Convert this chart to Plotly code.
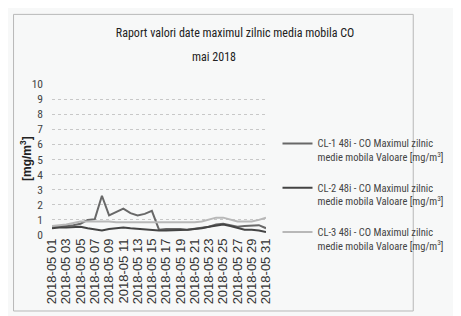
import plotly.graph_objects as go

days = [f"2018-05 {d:02d}" for d in range(1, 32)]
tick_labels = [f"2018-05 {d:02d}" for d in range(1, 32, 2)]

cl1 = [0.55, 0.6, 0.6, 0.65, 0.75, 1.0, 1.05, 2.6, 1.3, 1.5, 1.75, 1.45, 1.3, 1.4, 1.6,
       0.35, 0.4, 0.4, 0.4, 0.35, 0.4, 0.45, 0.55, 0.7, 0.75, 0.65, 0.55, 0.6, 0.6, 0.65, 0.45]
cl2 = [0.45, 0.5, 0.5, 0.5, 0.55, 0.45, 0.35, 0.3, 0.4, 0.45, 0.5, 0.45, 0.4, 0.35, 0.35,
       0.3, 0.3, 0.3, 0.35, 0.35, 0.4, 0.45, 0.55, 0.65, 0.7, 0.6, 0.45, 0.35, 0.35, 0.3, 0.2]
cl3 = [0.6, 0.65, 0.7, 0.8, 0.9, 0.9, 0.9, 0.9, 0.9, 0.85, 0.85, 0.85, 0.85, 0.85, 0.85,
       0.8, 0.8, 0.8, 0.8, 0.8, 0.85, 0.9, 1.0, 1.15, 1.15, 1.0, 0.9, 0.9, 0.9, 1.0, 1.15]

names = [
    "CL-1 48i - CO Maximul zilnic<br>medie mobila Valoare [mg/m<sup>3</sup>]",
    "CL-2 48i - CO Maximul zilnic<br>medie mobila Valoare [mg/m<sup>3</sup>]",
    "CL-3 48i - CO Maximul zilnic<br>medie mobila Valoare [mg/m<sup>3</sup>]",
]
colors = ["#686868", "#444444", "#b8b8b8"]

COND = "Roboto Condensed, Liberation Sans, sans-serif"
REG = "Liberation Sans, Arial, sans-serif"

# page has an 8px body margin; figure is sized to fit the 461x316 window
OFF = 8
W, H = 461 - OFF, 316 - OFF
PL, PT, PW, PH = 52, 84, 242, 154  # plot area in page pixels


def px(xp):
    return (xp - PL) / PW


def py(yp):
    return (PT + PH - yp) / PH


fig = go.Figure()
for i, (vals, nm, col) in enumerate(zip([cl1, cl2, cl3], names, colors)):
    fig.add_trace(go.Scatter(x=days, y=vals, mode="lines", name=nm,
                             legendgroup=f"g{i}",
                             line=dict(color=col, width=2)))

fig.update_layout(
    width=W, height=H,
    margin=dict(l=PL - OFF, r=W - (PL - OFF) - PW, t=PT - OFF, b=H - (PT - OFF) - PH),
    paper_bgcolor="#f7f8f8", plot_bgcolor="#f7f8f8",
    font=dict(family=COND, color="#333"),
    title=dict(text="Raport valori date maximul zilnic media mobila CO",
               x=(235 - OFF) / W, xanchor="center", y=1 - (33 - OFF) / H, yanchor="middle",
               font=dict(size=12, color="#222", family=COND)),
    showlegend=True,
    legend=dict(x=px(307), xanchor="left", y=0.695, yanchor="top", valign="top",
                font=dict(size=10.5, color="#444", family=COND),
                tracegroupgap=14, bgcolor="rgba(0,0,0,0)"),
    xaxis=dict(type="category", tickmode="array", tickvals=tick_labels, ticktext=tick_labels,
               tickangle=-90, tickfont=dict(size=13, color="#333", family=REG),
               showgrid=False, showline=False, zeroline=False, ticks="",
               range=[0, 30]),
    yaxis=dict(range=[0, 10], dtick=1, tickfont=dict(size=11.5, color="#444", family=COND),
               showgrid=True, gridcolor="#c8c8c8", griddash="dot", gridwidth=1,
               zeroline=False, showline=False, ticks="", ticklabelstandoff=8),
)

fig.add_annotation(text="mai 2018", xref="paper", yref="paper",
                   x=px(235), y=py(56), xanchor="center", yanchor="middle", showarrow=False,
                   font=dict(size=12, color="#222", family=COND))

fig.add_annotation(text="<b>[mg/m<sup>3</sup>]</b>", textangle=-90, xref="paper", yref="paper",
                   x=px(22), y=py(160), xanchor="center", yanchor="middle", showarrow=False,
                   font=dict(size=12, color="#222", family=REG))

fig.add_shape(type="rect", xref="paper", yref="paper",
              x0=px(OFF + 0.5), x1=px(460.5), y0=py(315.5), y1=py(13),
              line=dict(color="#b8b8b8", width=1), layer="below")

fig.write_html("out.html")
